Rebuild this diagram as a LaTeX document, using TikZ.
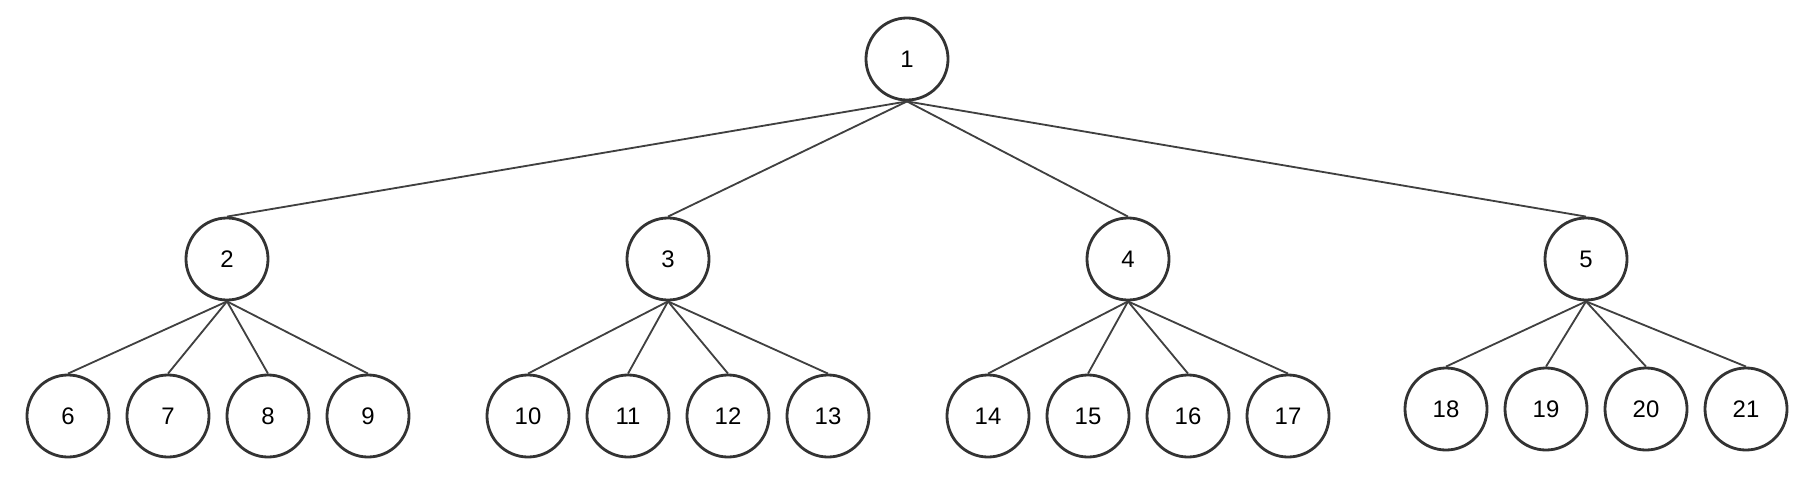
\documentclass[tikz,border=0pt]{standalone}
\usepackage{fontspec}
\setmainfont{Liberation Sans}
\usetikzlibrary{automata}
\tikzset{
every state/.style={draw=black!80, line width=2pt, minimum size=2.05cm, inner sep=0pt, fill=white,
  font=\fontsize{17}{20}\selectfont}, % circles of the tree
tree edge/.style={draw=black!75, line width=1.3pt}, % lines between levels
}

\begin{document}
\begin{tikzpicture}[x=0.025cm, y=-0.025cm]
   \useasboundingbox (0,0) rectangle (1820,486);
   % top level
   \node[state] (n_1) at (907,59) {1};
   % second level
   \node[state] (n_2) at (227,259) {2};
   \node[state] (n_3) at (668,259) {3};
   \node[state] (n_4) at (1128,259) {4};
   \node[state] (n_5) at (1586,259) {5};
   % leaves
   \node[state] (n_6) at (68,416) {6};
   \node[state] (n_7) at (168,416) {7};
   \node[state] (n_8) at (268,416) {8};
   \node[state] (n_9) at (368,416) {9};
   \node[state] (n_10) at (528,416) {10};
   \node[state] (n_11) at (628,416) {11};
   \node[state] (n_12) at (728,416) {12};
   \node[state] (n_13) at (828,416) {13};
   \node[state] (n_14) at (988,416) {14};
   \node[state] (n_15) at (1088,416) {15};
   \node[state] (n_16) at (1188,416) {16};
   \node[state] (n_17) at (1288,416) {17};
   \node[state] (n_18) at (1446,409) {18};
   \node[state] (n_19) at (1546,409) {19};
   \node[state] (n_20) at (1646,409) {20};
   \node[state] (n_21) at (1746,409) {21};
    \path[tree edge]
    (n_1.south) edge (n_2.north)
    (n_1.south) edge (n_3.north)
    (n_1.south) edge (n_4.north)
    (n_1.south) edge (n_5.north)
    (n_2.south) edge (n_6.north)
    (n_2.south) edge (n_7.north)
    (n_2.south) edge (n_8.north)
    (n_2.south) edge (n_9.north)
    (n_3.south) edge (n_10.north)
    (n_3.south) edge (n_11.north)
    (n_3.south) edge (n_12.north)
    (n_3.south) edge (n_13.north)
    (n_4.south) edge (n_14.north)
    (n_4.south) edge (n_15.north)
    (n_4.south) edge (n_16.north)
    (n_4.south) edge (n_17.north)
    (n_5.south) edge (n_18.north)
    (n_5.south) edge (n_19.north)
    (n_5.south) edge (n_20.north)
    (n_5.south) edge (n_21.north);
\end{tikzpicture}
\end{document}
